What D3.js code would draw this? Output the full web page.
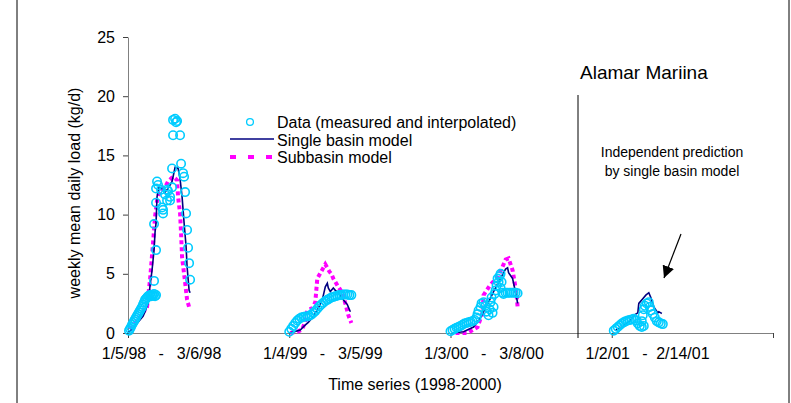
<!DOCTYPE html>
<html>
<head>
<meta charset="utf-8">
<script src="https://cdn.jsdelivr.net/npm/d3@7"></script>
<style>
  body { margin: 0; background: #fff; }
  svg { font-family: "Liberation Sans", Arial, sans-serif; }
</style>
</head>
<body>
<svg id="chart" width="791" height="403"></svg>
<script>
// categories / axis
var seasonStart = [0, 161, 322, 483];          // day index where each season starts
var axisEnd = 644;
var startLabels = ["1/5/98", "1/4/99", "1/3/00", "1/2/01"];
var endLabels = ["3/6/98", "3/5/99", "3/8/00", "2/14/01"];
var yTicks = [0, 5, 10, 15, 20, 25];

// data: [day within season, kg/d]
var obs98 = [[1,0.2],[2,0.35],[3,0.5],[4,0.7],[5,0.85],[6,1.0],[7,1.15],[8,1.3],[9,1.45],[10,1.6],
  [11,1.75],[12,1.9],[13,2.05],[14,2.2],[15,2.4],[16,2.6],[17,2.8],[18,2.9],[19,3.0],[20,3.1],
  [21,3.15],[22,3.2],[23,3.1],[24,3.2],[25,3.15],[26,3.3],[27,3.1],[28,3.2],
  [26,4.4],[28,7.0],[26,9.2],[28,11.0],[29,12.8],[28,12.2],[30,12.5],[33,12.1],[34,10.6],[35,10.4],
  [35,10.1],[37,11.7],[39,11.2],[39,12.1],[40,12.0],[42,11.5],[42,11.2],[44,12.3],[44,13.9],
  [45,16.7],[45,18.0],[47,18.1],[49,17.9],[48,17.8],[52,16.7],[53,14.3],[55,13.5],[56,13.2],
  [57,11.9],[58,10.1],[59,8.7],[60,7.2],[61,5.9],[62,4.5]];
var single98 = [[0,0],[5,0.4],[10,0.9],[15,1.4],[17,1.8],[20,2.5],[22,4.0],[24,5.3],[26,7.0],[27,8.5],
  [28,9.3],[29,11.5],[31,12.3],[34,12.2],[37,11.9],[40,12.2],[44,12.8],[47,14.0],[50,13.9],[52,13.0],
  [54,11.5],[56,9.3],[58,7.3],[59,5.6],[61,3.6],[62,3.4]];
var sub98 = [[2,0.3],[8,0.9],[14,1.6],[19,2.2],[22,4.5],[25,7.6],[27,9.8],[29,11.2],[32,12.1],[37,12.3],
  [40,12.8],[45,13.2],[48,13.0],[49,12.9],[50,11.5],[52,10.1],[53,8.4],[54,6.4],[57,4.3],[59,2.8],[61,2.2]];

var obs99 = [[0,0.1],[2,0.35],[4,0.6],[6,0.85],[8,1.05],[10,1.2],[12,1.3],[14,1.35],[16,1.4],[18,1.4],
  [20,1.45],[22,1.55],[24,1.7],[26,1.85],[28,2.05],[30,2.25],[32,2.4],[34,2.55],[36,2.7],[38,2.8],
  [40,2.9],[42,3.0],[44,3.05],[46,3.1],[48,3.15],[50,3.2],[52,3.2],[54,3.25],[56,3.25],[58,3.25],
  [60,3.2],[62,3.2]];
var single99 = [[0,0],[5,0.1],[11,0.25],[15,0.6],[19,0.9],[24,1.4],[29,2.1],[33,2.8],[36,3.9],[38,4.2],
  [39,3.8],[41,3.5],[44,3.8],[46,3.6],[49,3.4],[54,2.8],[58,2.4],[61,1.8]];
var sub99 = [[1,0],[8,0.1],[13,0.3],[16,1.0],[18,1.9],[23,2.1],[26,2.6],[28,4.6],[30,4.9],[32,5.2],
  [34,5.5],[36,5.8],[38,5.5],[40,5.2],[42,5.0],[44,4.6],[49,3.9],[53,3.4],[56,2.5],[59,1.5],[62,0.85]];

var obs00 = [[0,0.15],[2,0.25],[4,0.35],[6,0.45],[8,0.5],[10,0.6],[12,0.7],[14,0.8],[16,0.85],[18,0.9],
  [20,0.95],[22,1.0],[24,1.1],[26,1.3],[27,1.6],[28,1.9],[30,2.2],[31,2.5],[33,2.6],[35,2.3],[36,1.8],
  [38,1.5],[39,2.0],[40,2.6],[41,3.0],[42,1.7],[43,2.2],[44,3.3],[45,3.6],[46,4.0],[47,4.6],[48,4.3],
  [49,4.8],[50,5.0],[50,3.8],[51,4.3],[52,3.4],[53,3.3],[55,3.4],[57,3.4],[59,3.4],[61,3.4],[63,3.4],
  [65,3.4],[67,3.35]];
var single00 = [[2,0],[13,0.1],[23,0.5],[30,1.3],[33,1.8],[38,2.6],[43,3.5],[48,4.3],[53,5.1],[55,5.4],
  [57,5.5],[58,5.1],[62,4.6],[64,3.8],[66,3.0],[67,2.5]];
var sub00 = [[5,0],[17,0],[27,0.5],[32,1.7],[33,3.2],[40,4.1],[47,4.7],[52,5.6],[55,6.2],[58,6.3],
  [62,5.3],[64,4.3],[66,3.2],[67,2.2]];

var obs01 = [[2,0.2],[4,0.35],[6,0.5],[8,0.65],[10,0.8],[12,0.9],[14,1.0],[16,1.05],[18,1.1],[20,1.15],
  [22,1.2],[24,1.05],[26,0.8],[28,0.6],[30,0.5],[32,0.6],[30,1.0],[31,1.5],[32,2.0],[33,2.3],[35,2.5],
  [37,2.6],[38,2.2],[39,1.9],[41,1.6],[43,1.3],[45,1.0],[47,0.9],[49,0.8],[51,0.75]];
var single01 = [[4,0.25],[12,0.6],[19,1.1],[22,1.5],[26,1.7],[27,2.5],[31,2.9],[34,3.2],[37,3.4],[39,3.0],
  [42,2.2],[46,1.7],[47,1.8],[49,1.7],[50,1.65]];

var observed = [obs98, obs99, obs00, obs01];
var singleBasin = [single98, single99, single00, single01];
var subBasin = [sub98, sub99, sub00, null];

var cyan = "#00ccff", navy = "#000080", magenta = "#ff00ff";

var svg = d3.select("#chart");
var x = d3.scaleLinear().domain([0, axisEnd]).range([128, 773]);
var y = d3.scaleLinear().domain([0, 25]).range([333, 37]);

// outer frame (left/right edges)
svg.append("line").attr("x1", 17).attr("x2", 17).attr("y1", 0).attr("y2", 403).attr("stroke", "#000");
svg.append("line").attr("x1", 789).attr("x2", 789).attr("y1", 0).attr("y2", 403).attr("stroke", "#000");

// y axis
var yAxis = svg.append("g").attr("transform", "translate(" + x(0) + ",0)")
  .call(d3.axisLeft(y).tickValues(yTicks).tickSize(5).tickSizeOuter(0).tickPadding(8));
yAxis.select(".domain").attr("stroke", "#808080");
yAxis.selectAll(".tick line").attr("stroke", "#404040");
yAxis.selectAll("text").attr("font-size", "16px").attr("fill", "#000")
  .attr("font-family", "Liberation Sans, Arial, sans-serif");

// x axis, ticks only at season boundaries
var xAxis = svg.append("g").attr("transform", "translate(0," + y(0) + ")")
  .call(d3.axisBottom(x).tickValues(seasonStart.concat([axisEnd])).tickSize(5).tickSizeOuter(0).tickFormat(""));
xAxis.select(".domain").attr("stroke", "#808080");
xAxis.selectAll(".tick line").attr("stroke", "#404040");

// season labels
var lab = svg.append("g").attr("font-size", "16px").attr("text-anchor", "middle").attr("fill", "#000");
seasonStart.forEach(function(s, i) {
  lab.append("text").attr("x", x(s) - 4).attr("y", 359).text(startLabels[i]);
  lab.append("text").attr("x", x(s + 33)).attr("y", 359).text("-");
  lab.append("text").attr("x", x(s + 71)).attr("y", 359).text(endLabels[i]);
});

svg.append("text").attr("x", 415).attr("y", 390).attr("text-anchor", "middle")
  .attr("font-size", "16px").text("Time series (1998-2000)");

svg.append("text").attr("transform", "translate(80,193) rotate(-90)")
  .attr("text-anchor", "middle").attr("font-size", "16px").text("weekly mean daily load (kg/d)");

// divider for independent prediction
svg.append("line").attr("x1", 578).attr("x2", 578).attr("y1", 95).attr("y2", 338).attr("stroke", "#000");

var line = function(s) {
  return d3.line().x(function(d) { return x(seasonStart[s] + d[0]); }).y(function(d) { return y(d[1]); });
};

subBasin.forEach(function(arr, s) {
  if (!arr) return;
  svg.append("path").datum(arr).attr("d", line(s)).attr("fill", "none")
    .attr("stroke", magenta).attr("stroke-width", 4).attr("stroke-dasharray", "4,3");
});
singleBasin.forEach(function(arr, s) {
  svg.append("path").datum(arr).attr("d", line(s)).attr("fill", "none")
    .attr("stroke", navy).attr("stroke-width", 1.6);
});
observed.forEach(function(arr, s) {
  svg.append("g").selectAll("circle").data(arr).join("circle")
    .attr("cx", function(d) { return x(seasonStart[s] + d[0]); })
    .attr("cy", function(d) { return y(d[1]); })
    .attr("r", 4.2).attr("fill", "none").attr("stroke", cyan).attr("stroke-width", 1.6);
});

// legend
var leg = svg.append("g").attr("font-size", "16px");
leg.append("circle").attr("cx", 250).attr("cy", 122).attr("r", 3.4).attr("fill", "none")
  .attr("stroke", cyan).attr("stroke-width", 1.3);
leg.append("line").attr("x1", 230).attr("x2", 274).attr("y1", 139).attr("y2", 139)
  .attr("stroke", navy).attr("stroke-width", 1.6);
leg.append("line").attr("x1", 230).attr("x2", 274).attr("y1", 157).attr("y2", 157)
  .attr("stroke", magenta).attr("stroke-width", 4).attr("stroke-dasharray", "6,12");
["Data (measured and interpolated)", "Single basin model", "Subbasin model"].forEach(function(t, i) {
  leg.append("text").attr("x", 277).attr("y", 128 + i * 17.5).text(t);
});

// annotations
svg.append("text").attr("x", 580).attr("y", 79).attr("font-size", "19px").text("Alamar Mariina");
svg.append("text").attr("x", 672).attr("y", 157).attr("text-anchor", "middle").attr("font-size", "14px")
  .text("Independent prediction");
svg.append("text").attr("x", 672).attr("y", 176).attr("text-anchor", "middle").attr("font-size", "14px")
  .text("by single basin model");

svg.append("defs").append("marker").attr("id", "ah").attr("viewBox", "0 0 10 10")
  .attr("refX", 10).attr("refY", 5).attr("markerWidth", 12).attr("markerHeight", 12)
  .attr("markerUnits", "userSpaceOnUse").attr("orient", "auto")
  .append("path").attr("d", "M0,0L10,5L0,10Z").attr("fill", "#000");
svg.append("line").attr("x1", 681).attr("y1", 234).attr("x2", 664).attr("y2", 278)
  .attr("stroke", "#000").attr("stroke-width", 1.2).attr("marker-end", "url(#ah)");
</script>
</body>
</html>
